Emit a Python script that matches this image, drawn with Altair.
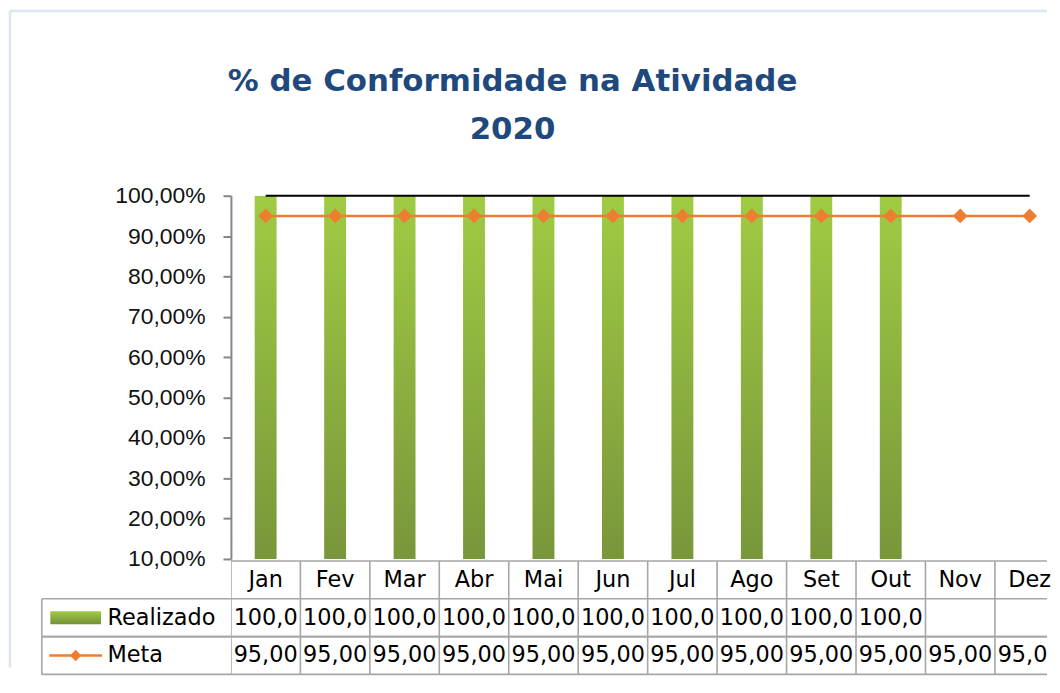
import altair as alt
import pandas as pd

# ---------------- data ----------------
meses = ["Jan", "Fev", "Mar", "Abr", "Mai", "Jun", "Jul", "Ago", "Set", "Out", "Nov", "Dez"]
realizado = [100, 100, 100, 100, 100, 100, 100, 100, 100, 100, None, None]
meta = [95, 95, 95, 95, 95, 95, 95, 95, 95, 95, 95, 95]
topo = [100, 100, 100, 100, 100, 100, 100, 100, 100, 100, 100, 100]
y_ticks = [10, 20, 30, 40, 50, 60, 70, 80, 90, 100]
series = ["Realizado", "Meta"]
title_lines = ["% de Conformidade na Atividade", "2020"]

df = pd.DataFrame({
    "mes": meses,
    "idx": list(range(len(meses))),
    "realizado": realizado,
    "meta": meta,
    "topo": topo,
})
header_df = pd.DataFrame({"serie": series, "r": [1, 2]})
one = pd.DataFrame({"k": [0]})

# ---------------- styles ----------------
W, H, TH = 820, 365, 114
ORANGE = "#ED7D31"
GRID = "#A6A6A6"
AXIS = "#868686"
FRAME = "#DCE6F2"
TFONT = "DejaVu Sans"
TSIZE = 22.5

green = alt.Gradient(
    gradient="linear",
    stops=[alt.GradientStop(color="#A0CB43", offset=0),
           alt.GradientStop(color="#74903A", offset=1)],
    x1=0, x2=0, y1=0, y2=1,
)

xs = alt.Scale(domain=[-0.5, 11.25], nice=False, zero=False, padding=0)
ys = alt.Scale(domain=[10, 100], nice=False, zero=False, padding=0)
ts = alt.Scale(domain=[0, 3], reverse=True, nice=False, zero=False, padding=0)

yaxis = alt.Axis(
    values=y_ticks,
    labelExpr="replace(format(datum.value, '.2f'), '.', ',') + '%'",
    title=None, grid=False,
    tickSize=8, tickWidth=2, tickColor=AXIS,
    domainColor=AXIS, domainWidth=2,
    labelFont="Liberation Sans", labelFontSize=23, labelColor="#111111",
    labelPadding=18,
)

X = alt.X("idx:Q", scale=xs, axis=None)
base = alt.Chart(df)

# ---------------- top: plot ----------------
frame_left = alt.Chart(one).mark_rule(color=FRAME, strokeWidth=2.5).encode(
    x=alt.value(-222), y=alt.value(-185.5), y2=alt.value(474))
frame_top = alt.Chart(one).mark_rule(color=FRAME, strokeWidth=2.5).encode(
    x=alt.value(-222), x2=alt.value(W), y=alt.value(-185.5))

bars = base.mark_bar(size=22, clip=True, color=green).encode(
    x=X, y=alt.Y("realizado:Q", scale=ys, axis=yaxis))
topo_line = base.mark_line(color="#000000", strokeWidth=2).encode(
    x=X, y=alt.Y("topo:Q", scale=ys, axis=yaxis))
meta_line = base.mark_line(color=ORANGE, strokeWidth=2.5).encode(
    x=X, y=alt.Y("meta:Q", scale=ys, axis=yaxis))
meta_pts = base.mark_point(shape="diamond", filled=True, size=220, color=ORANGE, opacity=1).encode(
    x=X, y=alt.Y("meta:Q", scale=ys, axis=yaxis))

top = alt.layer(frame_left, frame_top, bars, topo_line, meta_line, meta_pts).properties(width=W, height=H)

# ---------------- bottom: data table ----------------
vlines = base.mark_rule(color=GRID, strokeWidth=1.6, clip=True).transform_calculate(
    b="datum.idx - 0.5").encode(
    x=alt.X("b:Q", scale=xs, axis=None), y=alt.value(0), y2=alt.value(TH))
top_line = alt.Chart(one).mark_rule(color=GRID, strokeWidth=1.6).encode(
    x=alt.value(0), x2=alt.value(W), y=alt.value(0))
h_lines_a = alt.Chart(header_df).mark_rule(color=GRID, strokeWidth=1.6).encode(
    x=alt.value(-190), x2=alt.value(W), y=alt.Y("r:Q", scale=ts, axis=None))
h_lines_b = alt.Chart(header_df).mark_rule(color=GRID, strokeWidth=1.6).transform_calculate(
    r2="datum.r + 1").encode(
    x=alt.value(-190), x2=alt.value(W), y=alt.Y("r2:Q", scale=ts, axis=None))
left_border = alt.Chart(header_df).mark_rule(color=GRID, strokeWidth=1.6).transform_calculate(
    r2="datum.r + 1").encode(
    x=alt.value(-190), y=alt.Y("r:Q", scale=ts, axis=None), y2="r2:Q")

header_text = alt.Chart(header_df).mark_text(
    align="left", baseline="middle", font=TFONT, fontSize=TSIZE, color="#000000").transform_calculate(
    c="datum.r + 0.5").encode(
    x=alt.value(-124), y=alt.Y("c:Q", scale=ts, axis=None), text="serie:N")

leg_green = alt.Chart(header_df).transform_filter("datum.serie == 'Realizado'").transform_calculate(
    c="datum.r + 0.5").mark_rect(color=green, yOffset=-6.5, y2Offset=6.5).encode(
    x=alt.value(-181.5), x2=alt.value(-130.5), y=alt.Y("c:Q", scale=ts, axis=None), y2="c:Q")
leg_line = alt.Chart(header_df).transform_filter("datum.serie == 'Meta'").transform_calculate(
    c="datum.r + 0.5").mark_rule(color=ORANGE, strokeWidth=2.5).encode(
    x=alt.value(-182.5), x2=alt.value(-129.5), y=alt.Y("c:Q", scale=ts, axis=None))
leg_pt = alt.Chart(header_df).transform_filter("datum.serie == 'Meta'").transform_calculate(
    c="datum.r + 0.5").mark_point(shape="diamond", filled=True, size=130, color=ORANGE, opacity=1).encode(
    x=alt.value(-156), y=alt.Y("c:Q", scale=ts, axis=None))

txt = dict(font=TFONT, fontSize=TSIZE, color="#000000", baseline="middle", align="center")
month_text = base.mark_text(**txt).encode(
    x=X, y=alt.Y(datum=0.5, scale=ts, axis=None), text="mes:N")
real_text = base.transform_filter("isValid(datum.realizado)").transform_calculate(
    t="replace(format(datum.realizado, '.1f'), '.', ',')").mark_text(clip=True, **txt).encode(
    x=X, y=alt.Y(datum=1.5, scale=ts, axis=None), text="t:N")
meta_text = base.transform_calculate(
    t="replace(format(datum.meta, '.2f'), '.', ',')").mark_text(clip=True, **txt).encode(
    x=X, y=alt.Y(datum=2.5, scale=ts, axis=None), text="t:N")

bottom = alt.layer(
    vlines, top_line, h_lines_a, h_lines_b, left_border,
    leg_green, leg_line, leg_pt, header_text,
    month_text, real_text, meta_text,
).properties(width=W, height=TH)

chart = alt.vconcat(
    top, bottom, spacing=2, bounds="flush",
    title=alt.TitleParams(
        text=title_lines, font=TFONT, fontSize=31, fontWeight="bold",
        color="#1F497D", anchor="middle", frame="group",
        dx=-127, offset=-137, lineHeight=48,
    ),
).properties(padding=0).configure_view(stroke=None)

chart.save("out.html", embed_options={"renderer": "svg", "actions": False})
